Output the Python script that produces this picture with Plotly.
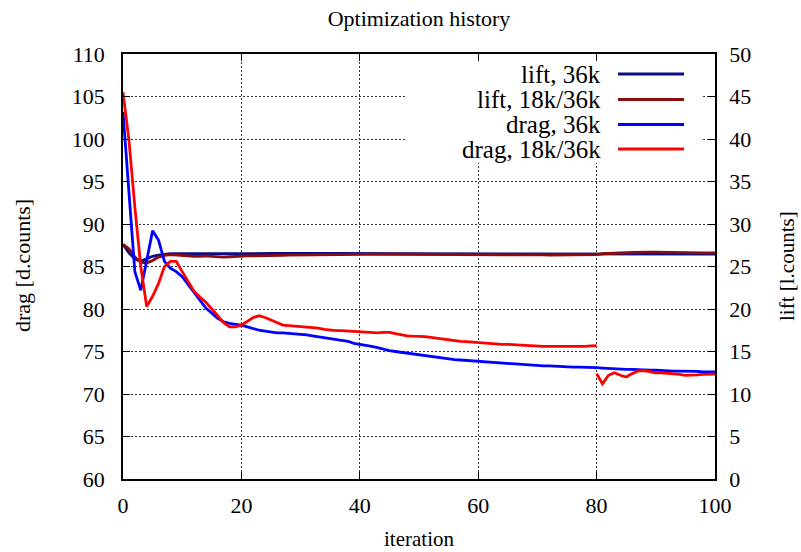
import plotly.graph_objects as go

# ---------------- data ----------------
iterations = list(range(0, 101))

drag_36k = [103.2, 93.8, 84.4, 82.2, 85.8, 89.2, 88.1, 85.6, 84.8, 84.4,
            83.8, 82.9, 82.0, 81.0, 80.1, 79.5, 78.9, 78.5, 78.3, 78.2,
            78.1, 77.9, 77.7, 77.5, 77.4, 77.3, 77.2, 77.2, 77.15, 77.1,
            77.05, 76.95, 76.85, 76.75, 76.65, 76.55, 76.45, 76.35, 76.2, 75.95,
            75.85, 75.75, 75.6, 75.45, 75.25, 75.1, 75.0, 74.9, 74.8, 74.7,
            74.6, 74.5, 74.4, 74.3, 74.2, 74.1, 74.05, 74.0, 73.95, 73.85,
            73.8, 73.75, 73.7, 73.65, 73.6, 73.55, 73.5, 73.45, 73.4, 73.35,
            73.35, 73.3, 73.3, 73.25, 73.2, 73.2, 73.15, 73.15, 73.15, 73.1,
            73.1, 73.05, 73.0, 72.95, 72.95, 72.9, 72.9, 72.85, 72.85, 72.8,
            72.8, 72.75, 72.75, 72.7, 72.7, 72.7, 72.65, 72.65, 72.6, 72.6,
            72.6]

iter_18k_a = list(range(0, 81))
drag_18k_a = [105.5, 99.9, 92.0, 85.0, 80.3, 81.5, 83.0, 85.0, 85.6, 85.6,
              84.4, 83.2, 82.1, 81.4, 80.8, 80.0, 79.2, 78.4, 77.9, 77.9,
              78.1, 78.6, 79.0, 79.2, 79.0, 78.7, 78.4, 78.1, 78.05, 78.0,
              77.95, 77.9, 77.85, 77.75, 77.6, 77.5, 77.45, 77.45, 77.4, 77.4,
              77.35, 77.3, 77.25, 77.2, 77.25, 77.25, 77.1, 76.95, 76.85, 76.8,
              76.8, 76.75, 76.65, 76.55, 76.45, 76.35, 76.3, 76.2, 76.15, 76.1,
              76.0, 75.98, 75.95, 75.9, 75.85, 75.85, 75.8, 75.75, 75.7, 75.65,
              75.65, 75.6, 75.6, 75.6, 75.6, 75.55, 75.55, 75.6, 75.6, 75.65,
              75.7]

iter_18k_b = list(range(80, 101))
drag_18k_b = [72.4, 71.2, 72.2, 72.5, 72.2, 72.0, 72.4, 72.7, 72.75, 72.6,
              72.5, 72.5, 72.45, 72.35, 72.3, 72.2, 72.2, 72.25, 72.3, 72.3,
              72.35]

lift_36k = [27.6, 26.6, 25.9, 25.6, 25.9, 26.2, 26.35, 26.45, 26.5, 26.5,
            26.5, 26.5, 26.45, 26.45, 26.5, 26.5, 26.5, 26.5, 26.5, 26.5,
            26.5, 26.5, 26.52, 26.52, 26.53, 26.53, 26.54, 26.55, 26.55, 26.55,
            26.55, 26.55, 26.55, 26.55, 26.54, 26.54, 26.53, 26.52, 26.52, 26.5,
            26.5, 26.5, 26.5, 26.5, 26.5, 26.5, 26.5, 26.5, 26.5, 26.5,
            26.5, 26.5, 26.5, 26.5, 26.5, 26.5, 26.5, 26.5, 26.5, 26.5,
            26.48, 26.48, 26.48, 26.48, 26.48, 26.48, 26.48, 26.48, 26.48, 26.48,
            26.47, 26.47, 26.47, 26.47, 26.47, 26.47, 26.47, 26.47, 26.47, 26.47,
            26.47, 26.47, 26.47, 26.46, 26.46, 26.46, 26.46, 26.46, 26.46, 26.46,
            26.46, 26.45, 26.45, 26.45, 26.45, 26.45, 26.45, 26.45, 26.45, 26.45,
            26.45]

lift_18k = [27.6, 27.1, 26.1, 25.5, 25.4, 25.7, 26.1, 26.3, 26.4, 26.35,
            26.3, 26.2, 26.2, 26.2, 26.25, 26.2, 26.15, 26.1, 26.15, 26.2,
            26.25, 26.25, 26.25, 26.28, 26.3, 26.3, 26.3, 26.32, 26.33, 26.34,
            26.35, 26.37, 26.38, 26.4, 26.4, 26.42, 26.43, 26.44, 26.45, 26.45,
            26.45, 26.45, 26.45, 26.45, 26.45, 26.45, 26.44, 26.44, 26.44, 26.44,
            26.43, 26.43, 26.43, 26.42, 26.42, 26.42, 26.41, 26.41, 26.41, 26.4,
            26.4, 26.4, 26.4, 26.4, 26.4, 26.38, 26.38, 26.38, 26.37, 26.37,
            26.36, 26.36, 26.35, 26.35, 26.35, 26.35, 26.35, 26.35, 26.36, 26.38,
            26.4, 26.5, 26.55, 26.58, 26.6, 26.62, 26.65, 26.68, 26.7, 26.7,
            26.68, 26.66, 26.65, 26.63, 26.62, 26.6, 26.6, 26.6, 26.6, 26.6,
            26.6]

legend_labels = ["lift, 36k", "lift, 18k/36k", "drag, 36k", "drag, 18k/36k"]
legend_colors = ["#0c0c8a", "#8b0c0c", "#0000ff", "#ff0000"]

x_ticks = [0, 20, 40, 60, 80, 100]
drag_ticks = list(range(60, 111, 5))
lift_ticks = list(range(0, 51, 5))

# ---------------- figure ----------------
FONT = "Liberation Serif"
LW = 2.8

fig = go.Figure()
# lift traces on primary y (right side) -> drawn underneath
fig.add_trace(go.Scatter(x=iterations, y=lift_36k, mode="lines", yaxis="y",
                         line=dict(color=legend_colors[0], width=LW), showlegend=False))
fig.add_trace(go.Scatter(x=iterations, y=lift_18k, mode="lines", yaxis="y",
                         line=dict(color=legend_colors[1], width=LW), showlegend=False))
# drag traces on y2 (left side)
fig.add_trace(go.Scatter(x=iterations, y=drag_36k, mode="lines", yaxis="y2",
                         line=dict(color=legend_colors[2], width=LW), showlegend=False))
fig.add_trace(go.Scatter(x=iter_18k_a, y=drag_18k_a, mode="lines", yaxis="y2",
                         line=dict(color=legend_colors[3], width=LW), showlegend=False))
fig.add_trace(go.Scatter(x=iter_18k_b, y=drag_18k_b, mode="lines", yaxis="y2",
                         line=dict(color=legend_colors[3], width=LW), showlegend=False))

L, R, T, B = 123, 86, 54, 73
W, H = 801, 552
pw, ph = W - L - R, H - T - B


def px(xp):
    return (xp - L) / pw


def py(yp):
    return (H - B - yp) / ph


tickfont = dict(family=FONT, size=22, color="black")
grid = dict(showgrid=True, gridcolor="#333", griddash="1.5px,2.5px", gridwidth=1)

fig.update_layout(
    width=W, height=H,
    margin=dict(l=L, r=R, t=T, b=B),
    paper_bgcolor="white", plot_bgcolor="white",
    font=dict(family=FONT, size=22, color="black"),
    title=dict(text="Optimization history", x=419 / W, xanchor="center",
               y=1 - 18 / H, yanchor="middle", font=dict(family=FONT, size=22)),
    xaxis=dict(range=[0, 100], tickvals=x_ticks, ticks="inside", ticklen=7,
               tickcolor="black", showline=True, linecolor="black", linewidth=1.5,
               mirror="ticks", tickfont=tickfont, zeroline=False,
               ticklabelstandoff=6, **grid),
    yaxis=dict(range=[0, 50], tickvals=lift_ticks, side="right", ticks="inside",
               ticklen=7, tickcolor="black", showline=True, linecolor="black",
               linewidth=1.5, tickfont=tickfont, zeroline=False,
               ticklabelstandoff=8, **grid),
    yaxis2=dict(range=[60, 110], tickvals=drag_ticks, side="left", overlaying="y",
                ticks="inside", ticklen=7, tickcolor="black", showline=True,
                linecolor="black", linewidth=1.5, tickfont=tickfont, zeroline=False,
                showgrid=False, ticklabelstandoff=12),
)

shapes = [dict(type="rect", xref="paper", yref="paper",
               x0=px(405), x1=px(702), y0=py(163), y1=py(61),
               fillcolor="white", line=dict(width=0), layer="above")]
annotations = []
rows_y = [74, 99.5, 124.5, 149]
for lab, col, yy in zip(legend_labels, legend_colors, rows_y):
    annotations.append(dict(text=lab, xref="paper", yref="paper", x=px(603), y=py(yy),
                            xanchor="right", yanchor="middle", showarrow=False,
                            font=dict(family=FONT, size=25, color="black")))
    shapes.append(dict(type="line", xref="paper", yref="paper", x0=px(618), x1=px(684),
                       y0=py(yy), y1=py(yy), line=dict(color=col, width=LW), layer="above"))

annotations += [
    dict(text="drag [d.counts]", xref="paper", yref="paper", x=px(22), y=py(266),
         xanchor="center", yanchor="middle", textangle=-90, showarrow=False,
         font=dict(family=FONT, size=22)),
    dict(text="lift [l.counts]", xref="paper", yref="paper", x=px(787), y=py(266),
         xanchor="center", yanchor="middle", textangle=-90, showarrow=False,
         font=dict(family=FONT, size=21)),
    dict(text="iteration", xref="paper", yref="paper", x=px(419), y=py(539),
         xanchor="center", yanchor="middle", showarrow=False,
         font=dict(family=FONT, size=21)),
]
fig.update_layout(shapes=shapes, annotations=annotations)

fig.write_html("out.html")
